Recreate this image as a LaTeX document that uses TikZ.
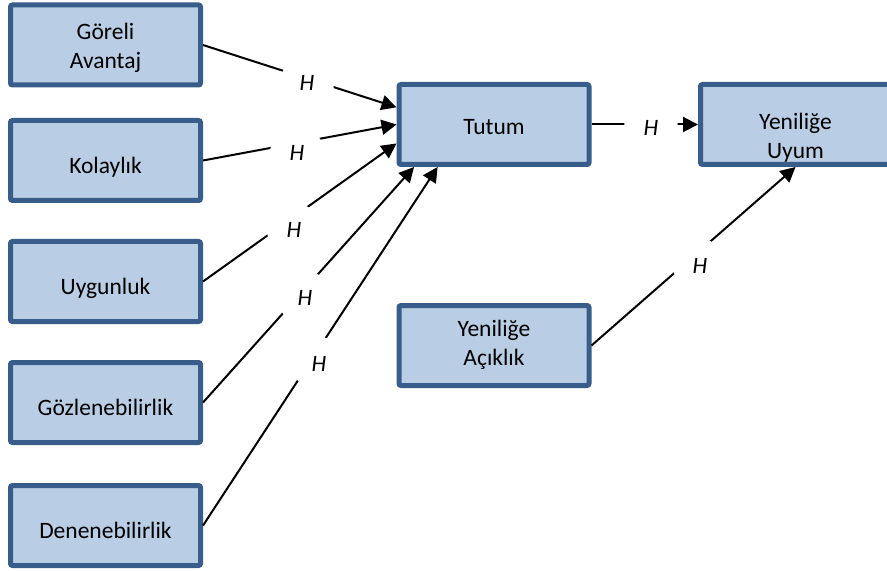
\documentclass[tikz,border=0pt]{standalone}
\usepackage{fontspec}
\setmainfont{Carlito}
\usepackage{tikz}
\usetikzlibrary{arrows.meta}
\definecolor{kutudolgu}{HTML}{B9CDE5}
\definecolor{kutukenar}{HTML}{385D8A}

\begin{document}
\begin{tikzpicture}[x=0.5pt,y=-0.5pt,
  kutu/.style={draw=kutukenar, fill=kutudolgu, line width=2.5pt, rounded corners=1pt,
    minimum width=95pt, minimum height=40pt, align=center, inner ysep=1pt,
    font=\fontsize{11.75}{14.5}\selectfont},
  tek/.style={text height=13.5pt, text depth=.5pt},
  yol/.style={line width=1pt, -{Triangle[length=7.5pt,width=7.5pt]}},
  hip/.style={circle, fill=white, minimum size=27pt, inner sep=0pt,
    font=\fontsize{11.75}{14.5}\selectfont\itshape}]
\useasboundingbox (0,0) rectangle (887,571);

% sol sutun
\node[kutu, text height=24.5pt, text depth=.5pt] (ga) at (105.5,45) {Göreli\\Avantaj};
\node[kutu, tek] (ko) at (105.5,160.5) {Kolaylık};
\node[kutu, tek] (uy) at (105.5,281.5) {Uygunluk};
\node[kutu, tek] (go) at (105.5,402.5) {Gözlenebilirlik};
\node[kutu, tek] (de) at (105.5,525.5) {Denenebilirlik};

% orta ve sag
\node[kutu, text height=11pt, text depth=.5pt] (tu) at (494,124.5) {Tutum};
\node[kutu, text height=20pt, text depth=.5pt] (ya) at (494,345.5) {Yeniliğe\\Açıklık};
\node[kutu, text height=34.3pt, text depth=.5pt] (yu) at (795.5,124.5) {Yeniliğe\\Uyum};

\draw[yol] (ga.east) -- (tu.170);
\draw[yol] (ko.east) -- (tu.west);
\draw[yol] (uy.east) -- (tu.191);
\draw[yol] (go.east) -- (tu.208);
\draw[yol] (de.east) -- (tu.217);
\draw[yol] (tu.east) -- (yu.west);
\draw[yol] (ya.east) -- (yu.south);

% H etiketleri
\node[hip] (h1) at (307,83) {H};
\node[hip] (h2) at (297,153) {H};
\node[hip] (h3) at (294,230) {H};
\node[hip] (h4) at (305,298) {H};
\node[hip] (h5) at (319,364) {H};
\node[hip] (h6) at (651,128) {H};
\node[hip] (h7) at (700,266) {H};
\end{tikzpicture}
\end{document}
